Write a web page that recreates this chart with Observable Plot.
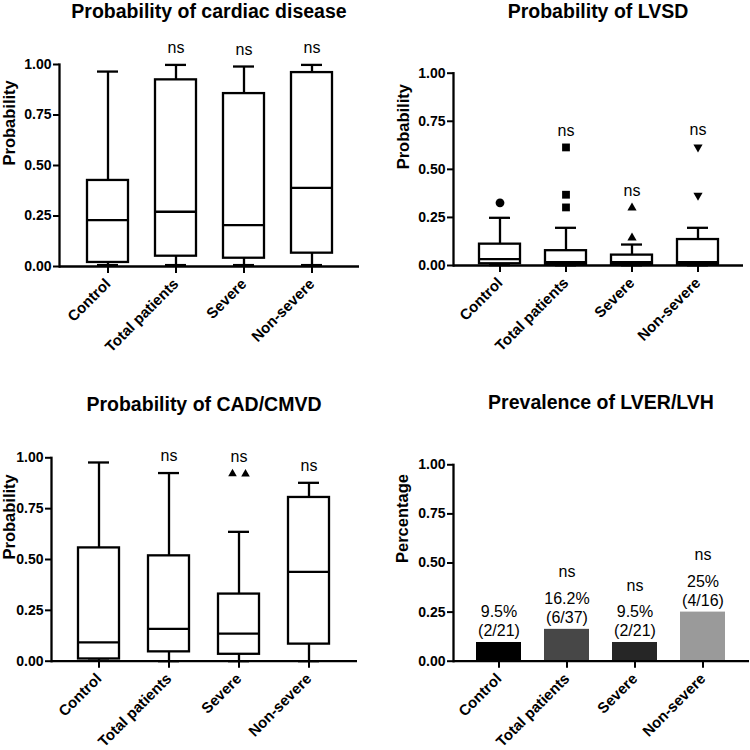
<!DOCTYPE html>
<html>
<head>
<meta charset="utf-8">
<script src="https://cdn.jsdelivr.net/npm/d3@7"></script>
<script src="https://cdn.jsdelivr.net/npm/@observablehq/plot@0.6"></script>
<style>
  body { margin: 0; background: #fff; font-family: "Liberation Sans", Arial, sans-serif; }
  #grid { position: relative; width: 750px; height: 750px; background: #fff; }
  .panel { position: absolute; width: 375px; height: 375px; }
  .panel svg { position: absolute; left: 0; top: 0; overflow: visible; }
  .title { position: absolute; font-weight: bold; font-size: 19.5px; line-height: 22px; text-align: center; white-space: nowrap; color: #000; z-index: 2; }
</style>
</head>
<body>
<div id="grid"></div>
<script>
// ---------- data ----------
const groups = ["Control", "Total patients", "Severe", "Non-severe"];

// Panel: Probability of cardiac disease
const cardiacMin    = [0.007, 0.007, 0.007, 0.007];
const cardiacQ1     = [0.020, 0.051, 0.041, 0.066];
const cardiacMedian = [0.230, 0.271, 0.205, 0.389];
const cardiacQ3     = [0.426, 0.924, 0.856, 0.960];
const cardiacMax    = [0.965, 0.998, 0.990, 0.998];
const cardiacSig    = ["", "ns", "ns", "ns"];

// Panel: Probability of LVSD
const lvsdMin    = [0.002, 0.001, 0.001, 0.001];
const lvsdQ1     = [0.009, 0.005, 0.005, 0.005];
const lvsdMedian = [0.033, 0.017, 0.017, 0.017];
const lvsdQ3     = [0.111, 0.077, 0.054, 0.135];
const lvsdMax    = [0.248, 0.196, 0.109, 0.196];
const lvsdOutlierGroup = ["Control", "Total patients", "Total patients", "Total patients", "Severe", "Severe", "Non-severe", "Non-severe"];
const lvsdOutlierValue = [0.326, 0.614, 0.368, 0.302, 0.300, 0.144, 0.615, 0.364];
const lvsdSig = ["", "ns", "ns", "ns"];

// Panel: Probability of CAD/CMVD
const cadMin    = [0.003, 0.000, 0.000, 0.000];
const cadQ1     = [0.011, 0.046, 0.034, 0.084];
const cadMedian = [0.093, 0.159, 0.136, 0.439];
const cadQ3     = [0.557, 0.518, 0.330, 0.805];
const cadMax    = [0.977, 0.925, 0.636, 0.877];
const cadOutlierGroup = ["Severe", "Severe"];
const cadOutlierValue = [0.922, 0.920];
const cadSig = ["", "ns", "ns", "ns"];

// Panel: Prevalence of LVER/LVH
const lverCases = [2, 6, 2, 4];
const lverTotal = [21, 37, 21, 16];
const lverPercentLabel = ["9.5%", "16.2%", "9.5%", "25%"];
const lverSig = ["", "ns", "ns", "ns"];

const yTicks = [0, 0.25, 0.5, 0.75, 1];

// ---------- drawing ----------
const SW = 2.3;
const FONT = "'Liberation Sans', Arial, sans-serif";
const barColors = ["#000000", "#474747", "#262626", "#9a9a9a"];

const triangleDown = {
  draw(context, size) {
    const s3 = Math.sqrt(3);
    const y = -Math.sqrt(size / (s3 * 3));
    context.moveTo(0, -y * 2);
    context.lineTo(-s3 * y, y);
    context.lineTo(s3 * y, y);
    context.closePath();
  }
};

function axes(yLabel, labelDx) {
  return [
    Plot.ruleY([0], {strokeWidth: SW}),
    Plot.frame({anchor: "left", strokeWidth: SW}),
    Plot.axisX({tickRotate: -45, tickSize: 7, tickPadding: 8, fontSize: 15, fontWeight: "bold", strokeWidth: 2, label: null}),
    Plot.axisY({ticks: yTicks, tickFormat: d3.format(".2f"), tickSize: 6, tickPadding: 2, fontSize: 14, fontWeight: "bold", strokeWidth: 2, label: null}),
    Plot.text([yLabel], {frameAnchor: "left", text: d => d, rotate: -90, dx: labelDx, fontSize: 16.5, fontWeight: "bold"})
  ];
}

function makePlot(marks, m, padIn, padOut) {
  return Plot.plot({
    width: 375, height: 375,
    marginLeft: m[0], marginRight: m[1], marginTop: m[2], marginBottom: m[3],
    style: {fontFamily: FONT, color: "#000", background: "transparent", overflow: "visible"},
    x: {domain: groups, paddingInner: padIn, paddingOuter: padOut, axis: null},
    y: {domain: [0, 1], axis: null},
    color: {type: "identity"},
    marks
  });
}

function boxRows(mn, q1, md, q3, mx, sig, outG, outV) {
  return groups.map((g, i) => {
    const outs = (outV || []).filter((v, j) => outG[j] === g);
    return {group: g, min: mn[i], q1: q1[i], median: md[i], q3: q3[i], max: mx[i],
            sig: sig[i], top: Math.max(mx[i], ...outs)};
  });
}

function boxMarks(rows) {
  return [
    Plot.ruleX(rows, {x: "group", y1: "q3", y2: "max", strokeWidth: SW}),
    Plot.ruleX(rows, {x: "group", y1: "min", y2: "q1", strokeWidth: SW}),
    Plot.tickY(rows, {x: "group", y: "max", insetLeft: 10, insetRight: 10, strokeWidth: SW}),
    Plot.tickY(rows, {x: "group", y: "min", insetLeft: 10, insetRight: 10, strokeWidth: SW}),
    Plot.barY(rows, {x: "group", y1: "q1", y2: "q3", fill: "white", stroke: "black", strokeWidth: SW}),
    Plot.tickY(rows, {x: "group", y: "median", strokeWidth: SW}),
    Plot.text(rows.filter(d => d.sig), {x: "group", y: "top", text: "sig", dy: -17, fontSize: 16, fontWeight: "normal"})
  ];
}

function addPanel(left, top, svg, title, titleLeft, titleWidth, titleTop) {
  const div = document.createElement("div");
  div.className = "panel";
  div.style.left = left + "px";
  div.style.top = top + "px";
  div.appendChild(svg);
  const t = document.createElement("div");
  t.className = "title";
  t.textContent = title;
  t.style.left = titleLeft + "px";
  t.style.width = titleWidth + "px";
  t.style.top = titleTop + "px";
  div.appendChild(t);
  document.getElementById("grid").appendChild(div);
}

// Panel 1
{
  const rows = boxRows(cardiacMin, cardiacQ1, cardiacMedian, cardiacQ3, cardiacMax, cardiacSig);
  const m = [59, 16, 64, 109];
  const svg = makePlot([...boxMarks(rows), ...axes("Probability", -50)], m, 0.4, 0.38);
  addPanel(0, 0, svg, "Probability of cardiac disease", m[0], 375 - m[0] - m[1], 0);
}

// Panel 2
{
  const rows = boxRows(lvsdMin, lvsdQ1, lvsdMedian, lvsdQ3, lvsdMax, lvsdSig, lvsdOutlierGroup, lvsdOutlierValue);
  const outs = lvsdOutlierValue.map((v, i) => ({group: lvsdOutlierGroup[i], value: v}));
  const m = [78, 7, 72.7, 110];
  const dots = [
    Plot.dot(outs.filter(d => d.group === "Control"), {x: "group", y: "value", symbol: "circle", r: 4.4, fill: "black"}),
    Plot.dot(outs.filter(d => d.group === "Total patients"), {x: "group", y: "value", symbol: "square", r: 4.4, fill: "black"}),
    Plot.dot(outs.filter(d => d.group === "Severe"), {x: "group", y: "value", symbol: "triangle", r: 3.4, fill: "black"}),
    Plot.dot(outs.filter(d => d.group === "Non-severe"), {x: "group", y: "value", symbol: triangleDown, r: 3.4, fill: "black"})
  ];
  const svg = makePlot([...boxMarks(rows), ...dots, ...axes("Probability", -50)], m, 0.385, 0.367);
  addPanel(375, 0, svg, "Probability of LVSD", m[0], 375 - m[0] - m[1], 0);
}

// Panel 3
{
  const rows = boxRows(cadMin, cadQ1, cadMedian, cadQ3, cadMax, cadSig, cadOutlierGroup, cadOutlierValue);
  const outs = cadOutlierValue.map((v, i) => ({group: cadOutlierGroup[i], value: v, k: i}));
  const m = [51, 18, 82.3, 89.3];
  const dots = [
    Plot.dot(outs.filter(d => d.k === 0), {x: "group", y: "value", symbol: "triangle", r: 3.2, fill: "black", dx: -6.5}),
    Plot.dot(outs.filter(d => d.k === 1), {x: "group", y: "value", symbol: "triangle", r: 3.2, fill: "black", dx: 6.5})
  ];
  const svg = makePlot([...boxMarks(rows), ...dots, ...axes("Probability", -41.5)], m, 0.414, 0.39);
  addPanel(0, 375, svg, "Probability of CAD/CMVD", m[0], 375 - m[0] - m[1], 18);
}

// Panel 4
{
  const rows = groups.map((g, i) => ({
    group: g, value: lverCases[i] / lverTotal[i],
    label: lverPercentLabel[i] + "\n(" + lverCases[i] + "/" + lverTotal[i] + ")",
    sig: lverSig[i], color: barColors[i]
  }));
  const m = [78, 1, 89.3, 89.3];
  const marks = [
    Plot.barY(rows, {x: "group", y: "value", fill: "color"}),
    Plot.text(rows, {x: "group", y: "value", text: "label", lineAnchor: "bottom", dy: -6, lineHeight: 1.2, fontSize: 16, fontWeight: "normal"}),
    Plot.text(rows.filter(d => d.sig), {x: "group", y: "value", text: "sig", dy: -57, fontSize: 16, fontWeight: "normal"}),
    ...axes("Percentage", -51)
  ];
  const svg = makePlot(marks, m, 0.338, 0.345);
  addPanel(375, 375, svg, "Prevalence of LVER/LVH", m[0], 375 - m[0] - m[1], 15.5);
}
</script>
</body>
</html>
